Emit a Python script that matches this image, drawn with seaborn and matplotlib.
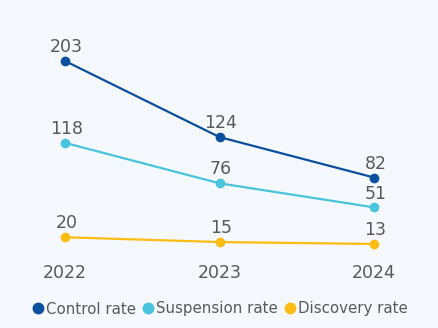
import matplotlib
matplotlib.use("Agg")
import matplotlib.pyplot as plt
import seaborn as sns
import pandas as pd
from matplotlib.lines import Line2D

# Chart data
YEARS = [2022, 2023, 2024]
CONTROL_RATE = [203, 124, 82]
SUSPENSION_RATE = [118, 76, 51]
DISCOVERY_RATE = [20, 15, 13]
SERIES_NAMES = ["Control rate", "Suspension rate", "Discovery rate"]

COLORS = ["#0b4f9f", "#49c4dd", "#fbbd13"]
BG = "#f5f8fc"
TEXT = "#595959"

df = pd.DataFrame({
    "year": YEARS * 3,
    "value": CONTROL_RATE + SUSPENSION_RATE + DISCOVERY_RATE,
    "series": [s for s in SERIES_NAMES for _ in YEARS],
})

sns.set_style("white")
plt.rcParams["font.family"] = ["DejaVu Sans"]

fig = plt.figure(figsize=(4.38, 3.28), dpi=100, facecolor=BG)
ax = fig.add_axes([0, (328 - 262) / 328, 1, 262 / 328])
ax.set_facecolor(BG)

sns.lineplot(data=df, x="year", y="value", hue="series", palette=COLORS,
             hue_order=SERIES_NAMES, marker="o", markersize=7, markeredgewidth=0,
             linewidth=1.6, legend=False, ax=ax)

# value labels above points
for vals in [CONTROL_RATE, SUSPENSION_RATE, DISCOVERY_RATE]:
    for x, y in zip(YEARS, vals):
        ax.annotate(str(y), (x, y), xytext=(1, 3.5), textcoords="offset points",
                    ha="center", va="bottom", fontsize=12.5, color=TEXT)

# axis limits chosen to place points like the reference
px_year = (374 - 65) / 2
ax.set_xlim(2022 - 65 / px_year, 2024 + (438 - 374) / px_year)
px_unit = 183 / 190
ax.set_ylim(-(262 - 256.5) / px_unit, 256.5 / px_unit)

ax.set_xticks(YEARS)
ax.set_xticklabels([str(y) for y in YEARS])
ax.tick_params(axis="x", length=0, pad=1.5, labelsize=12.5, labelcolor=TEXT)
ax.set_yticks([])
ax.set_xlabel("")
ax.set_ylabel("")
for s in ax.spines.values():
    s.set_visible(False)

handles = [Line2D([], [], marker="o", linestyle="", color=c, markersize=7.5)
           for c in COLORS]
fig.legend(handles, SERIES_NAMES, loc="center", bbox_to_anchor=(0.5, 1 - 309 / 328),
           ncol=3, frameon=False, fontsize=10.8, labelcolor=TEXT,
           handletextpad=0.0, columnspacing=0.35, handlelength=1.0)

fig.savefig("out.png", dpi=100, facecolor=BG)
